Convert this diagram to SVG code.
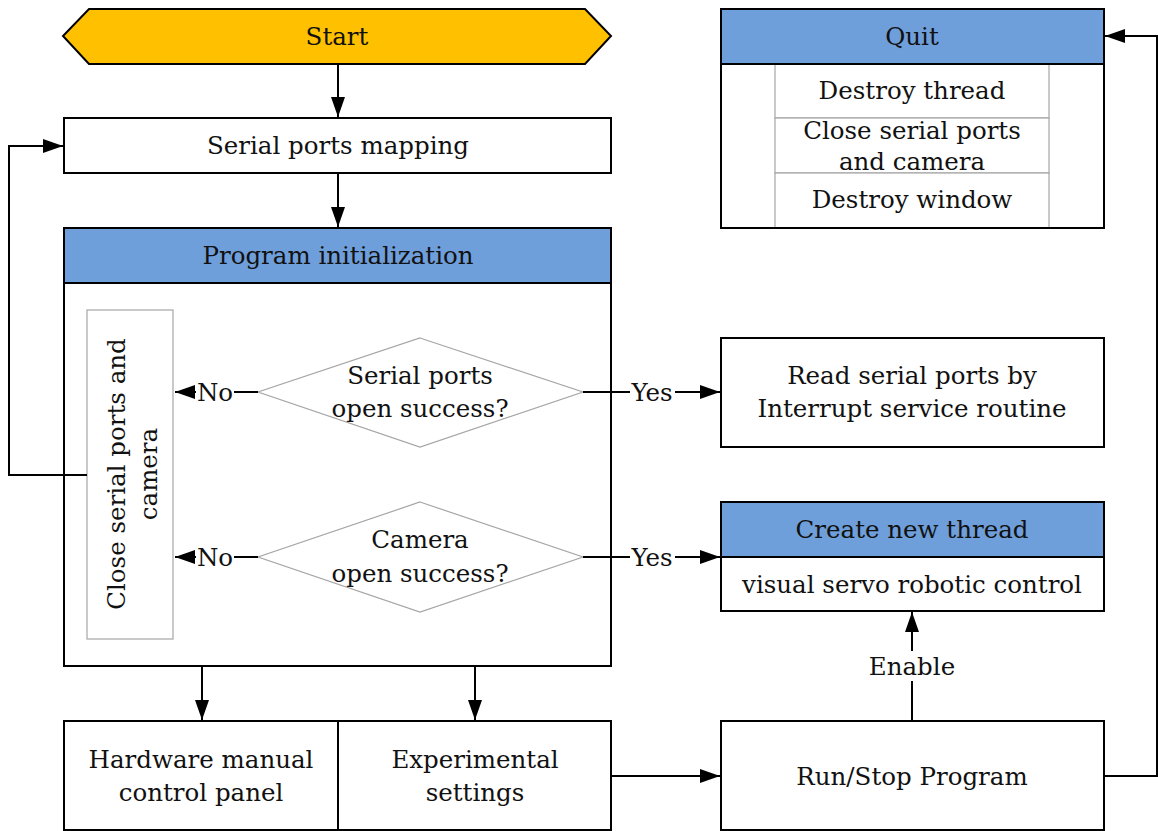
<svg xmlns="http://www.w3.org/2000/svg" width="1158" height="831" viewBox="0 0 1158 831">
  <style>
    .box { fill: #ffffff; stroke: #000000; stroke-width: 2; }
    .frame { fill: none; stroke: #000000; stroke-width: 2; }
    .head { fill: #6f9fdb; stroke: #000000; stroke-width: 2; }
    .thin { fill: #ffffff; stroke: #a6a6a6; stroke-width: 1.2; }
    .line { fill: none; stroke: #000000; stroke-width: 2; }
    text { font-family: "DejaVu Serif", "Liberation Serif", serif; font-size: 24.5px; fill: #111111; text-anchor: middle; }
    .lbl { fill: #ffffff; }
  </style>
  <defs>
    <marker id="arrowL" viewBox="0 0 20 14" refX="20" refY="7" markerWidth="20" markerHeight="14" markerUnits="userSpaceOnUse" orient="auto">
      <path d="M0,0 L20,7 L0,14 z" fill="#000000"/>
    </marker>
  </defs>

  <g id="start">
    <polygon points="89,9 585,9 611,36 585,64 89,64 63,36" fill="#ffc000" stroke="#000000" stroke-width="2"/>
    <text x="337" y="45">Start</text>
  </g>

  <g id="serial-mapping">
    <rect class="box" x="64" y="118" width="547" height="55"/>
    <text x="338" y="154">Serial ports mapping</text>
  </g>

  <g id="program-init">
    <rect class="box" x="64" y="283" width="547" height="383"/>
    <rect class="head" x="64" y="228" width="547" height="55"/>
    <text x="338" y="264">Program initialization</text>
  </g>

  <g id="close-ports">
    <rect class="thin" x="87" y="310" width="86" height="329"/>
    <text transform="translate(130,474) rotate(-90)"><tspan x="0" y="-5">Close serial ports and</tspan><tspan x="0" y="27">camera</tspan></text>
  </g>

  <g id="serial-check">
    <polygon class="thin" points="420,338 583,392 420,447 258,392"/>
    <text x="420" y="384">Serial ports</text>
    <text x="420" y="417">open success?</text>
  </g>

  <g id="camera-check">
    <polygon class="thin" points="420,502 583,557 420,612 258,557"/>
    <text x="420" y="548">Camera</text>
    <text x="420" y="582">open success?</text>
  </g>

  <g id="quit">
    <rect class="box" x="721" y="64" width="383" height="164"/>
    <rect class="thin" x="775" y="64" width="274" height="54"/>
    <rect class="thin" x="775" y="118" width="274" height="55"/>
    <rect class="thin" x="775" y="173" width="274" height="55"/>
    <rect class="frame" x="721" y="64" width="383" height="164"/>
    <rect class="head" x="721" y="9" width="383" height="55"/>
    <text x="912" y="45">Quit</text>
    <text x="912" y="99">Destroy thread</text>
    <text x="912" y="139">Close serial ports</text>
    <text x="912" y="170">and camera</text>
    <text x="912" y="208">Destroy window</text>
  </g>

  <g id="read-serial">
    <rect class="box" x="721" y="338" width="383" height="109"/>
    <text x="912" y="384">Read serial ports by</text>
    <text x="912" y="417">Interrupt service routine</text>
  </g>

  <g id="new-thread">
    <rect class="box" x="721" y="557" width="383" height="54"/>
    <rect class="head" x="721" y="502" width="383" height="55"/>
    <text x="912" y="538">Create new thread</text>
    <text x="912" y="593">visual servo robotic control</text>
  </g>

  <g id="hardware-panel">
    <rect class="box" x="64" y="721" width="274" height="109"/>
    <text x="201" y="768">Hardware manual</text>
    <text x="201" y="801">control panel</text>
  </g>

  <g id="experimental">
    <rect class="box" x="338" y="721" width="273" height="109"/>
    <text x="475" y="768">Experimental</text>
    <text x="475" y="801">settings</text>
  </g>

  <g id="run-stop">
    <rect class="box" x="721" y="721" width="383" height="109"/>
    <text x="912" y="785">Run/Stop Program</text>
  </g>

  <!-- connectors drawn over the frames they cross -->
  <g id="connectors">
    <path class="line" d="M338,64 V117" marker-end="url(#arrowL)"/>
    <path class="line" d="M338,173 V227" marker-end="url(#arrowL)"/>
    <path class="line" d="M87,475 H9 V146 H63" marker-end="url(#arrowL)"/>
    <path class="line" d="M258,392 H175" marker-end="url(#arrowL)"/>
    <path class="line" d="M258,557 H175" marker-end="url(#arrowL)"/>
    <path class="line" d="M583,392 H720" marker-end="url(#arrowL)"/>
    <path class="line" d="M583,557 H720" marker-end="url(#arrowL)"/>
    <path class="line" d="M202,666 V720" marker-end="url(#arrowL)"/>
    <path class="line" d="M475,666 V720" marker-end="url(#arrowL)"/>
    <path class="line" d="M611,776 H720" marker-end="url(#arrowL)"/>
    <path class="line" d="M912,721 V612" marker-end="url(#arrowL)"/>
    <path class="line" d="M1104,776 H1157 V36 H1105" marker-end="url(#arrowL)"/>
    <!-- connector labels -->
    <rect class="lbl" x="196" y="380" width="38" height="24"/>
    <text x="215" y="401">No</text>
    <rect class="lbl" x="196" y="545" width="38" height="24"/>
    <text x="215" y="566">No</text>
    <rect class="lbl" x="630" y="380" width="45" height="24"/>
    <text x="652" y="401">Yes</text>
    <rect class="lbl" x="630" y="545" width="45" height="24"/>
    <text x="652" y="566">Yes</text>
    <rect class="lbl" x="866" y="651" width="92" height="30"/>
    <text x="912" y="675">Enable</text>
  </g>
</svg>
